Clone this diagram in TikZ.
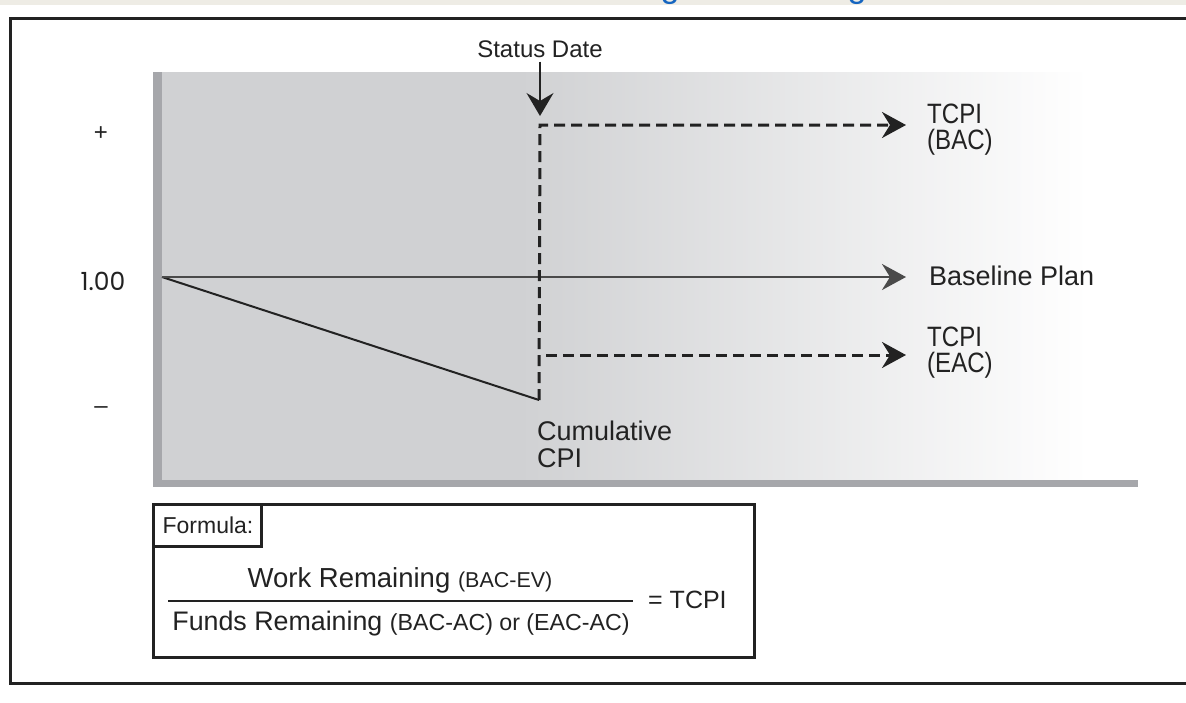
\documentclass[tikz,border=0pt]{standalone}
\usepackage{fontspec}
\setmainfont{Liberation Sans}
\newfontfamily\condfont{Liberation Sans}[FakeStretch=0.86]
\newfontfamily\roundfont{Poppins}
\usetikzlibrary{arrows.meta}

\definecolor{ink}{HTML}{222222}
\definecolor{linegray}{HTML}{4A4A4A}
\definecolor{panel}{HTML}{D0D1D3}
\definecolor{rail}{HTML}{A6A7AB}
\definecolor{strip}{HTML}{EEECE5}
\definecolor{titleblue}{HTML}{1565C0}

\newcommand{\pxsize}[1]{\fontsize{#1}{#1}\selectfont}

\begin{document}
\begin{tikzpicture}[x=1pt,y=-1pt,
  txt/.style={inner sep=0pt, text=ink},
  stack/.style={txt, align=left, font=\condfont\fontsize{28}{26}\selectfont},
  bighead/.style={-{Stealth[length=24pt,width=26pt,inset=8pt]}},
  dashline/.style={line width=3pt, draw=ink, dash pattern=on 11pt off 6pt},
  boxline/.style={line width=3pt, draw=ink}
]
\useasboundingbox (0,0) rectangle (1186,702);
\clip (0,0) rectangle (1186,702);
\fill[white] (0,0) rectangle (1186,702);

% header strip with the descenders of the page title
\fill[strip] (0,0) rectangle (1186,5);
\begin{scope}
  \clip (0,0) rectangle (1186,6);
  \node[anchor=base, inner sep=0pt, text=titleblue, font=\pxsize{34}] (tg1) at (670,-3) {g};
  \node[anchor=base, inner sep=0pt, text=titleblue, font=\pxsize{34}] (tg2) at (857,-3) {g};
\end{scope}

% outer frame
\draw[line width=3pt, draw=ink] (1200,18) -- (10,18) -- (10,683) -- (1200,683);

% chart panel
\fill[panel] (162,72) rectangle (520,480);
\shade[left color=panel, right color=white] (519,72) rectangle (1088,480);
\fill[rail] (153,72) rectangle (162,487);
\fill[rail] (153,480) rectangle (1138,487);

% axis labels
\node[txt, font=\pxsize{24}] (plus) at (101,134) {+};
\node[txt, font=\roundfont\pxsize{25}] (one) at (103,281) {1.00};
\node[txt, font=\pxsize{24}] (minus) at (101,410) {–};

% key points
\coordinate (origin) at (162,277);
\coordinate (cpi) at (539,400);
\coordinate (corner) at (540,125);
\coordinate (eacstart) at (546,355);
\coordinate (basetip) at (906,277);
\coordinate (bactip) at (906,125);
\coordinate (eactip) at (906,355);
\coordinate (statustip) at (540,116);

% labels
\node[txt, font=\pxsize{24}] (status) at (540,49) {Status Date};
\node[txt, anchor=west, font=\pxsize{27}] (baseline) at (929,276) {Baseline Plan};
\node[stack, anchor=west] (bac) at (927,130) {TCPI\\(BAC)};
\node[stack, anchor=west] (eac) at (927,353) {TCPI\\(EAC)};
\node[txt, anchor=west, align=left, font=\fontsize{27}{27}\selectfont] (cum) at (537,444) {Cumulative\\CPI};

% curves
\draw[line width=2pt, draw=ink] (origin) -- (cpi);
\draw[line width=2.5pt, draw=linegray, bighead] (origin) -- (basetip);
\draw[dashline, bighead] (cpi) -- (corner) -- (bactip);
\draw[dashline, bighead] (eacstart) -- (eactip);
\draw[line width=1.5pt, draw=ink, {-Stealth[length=23pt,width=27pt,inset=8pt]}] (status.south) ++(0,4) -- (statustip);

% formula box
\draw[boxline] (153,504) rectangle (754,657);
\draw[boxline] (153,504) rectangle (261,546);
\node[txt, font=\pxsize{23}] (flabel) at (208,525) {Formula:};
\node[txt, font=\pxsize{27.5}] (num) at (400,580) {Work Remaining {\pxsize{21.5}(BAC-EV)}};
\node[txt, font=\pxsize{26.8}] (den) at (401,624) {Funds Remaining {\pxsize{23.2}(BAC-AC) or (EAC-AC)}};
\draw[line width=1.5pt, draw=ink] (168,601) -- (633,601);
\node[txt, anchor=west, font=\pxsize{25}] (res) at (648,600) {= TCPI};
\end{tikzpicture}
\end{document}
